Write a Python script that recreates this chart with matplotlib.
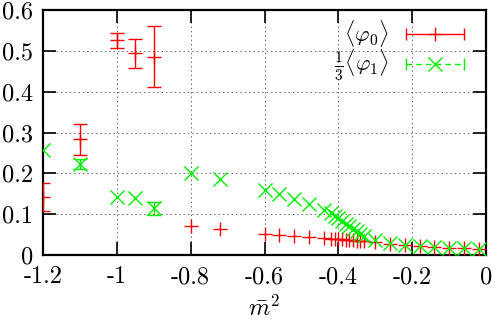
import numpy as np
import matplotlib
matplotlib.use("Agg")
import matplotlib.pyplot as plt
from matplotlib.lines import Line2D
from matplotlib.legend_handler import HandlerLine2D, HandlerTuple
from matplotlib.ticker import FuncFormatter, FixedLocator

plt.rcParams['font.family'] = 'cmr10'
plt.rcParams['mathtext.fontset'] = 'cm'
plt.rcParams['axes.unicode_minus'] = False
plt.rcParams['axes.formatter.use_mathtext'] = False

# ---- data ----
x_phi0 = [-1.2, -1.1, -1.0, -0.95, -0.9, -0.8, -0.72, -0.6, -0.56, -0.52, -0.48, -0.44,
          -0.42, -0.41, -0.40, -0.39, -0.38, -0.37, -0.36, -0.35, -0.34, -0.33,
          -0.3, -0.26, -0.22, -0.18, -0.14, -0.1, -0.06, -0.02]
y_phi0 = [0.142, 0.284, 0.526, 0.494, 0.486, 0.072, 0.063, 0.051, 0.048, 0.046, 0.043, 0.042,
          0.040, 0.039, 0.039, 0.038, 0.037, 0.037, 0.036, 0.035, 0.035, 0.034,
          0.032, 0.028, 0.025, 0.022, 0.020, 0.018, 0.016, 0.015]
e_phi0 = [0.035, 0.038, 0.018, 0.036, 0.074, 0.0, 0.0, 0.0, 0.0, 0.0, 0.0, 0.0,
          0.0, 0.0, 0.0, 0.0, 0.0, 0.0, 0.0, 0.0, 0.0, 0.0,
          0.0, 0.0, 0.0, 0.0, 0.0, 0.0, 0.0, 0.0]

x_phi1 = x_phi0
y_phi1 = [0.256, 0.222, 0.142, 0.140, 0.114, 0.200, 0.185, 0.158, 0.149, 0.136, 0.124, 0.111,
          0.102, 0.096, 0.090, 0.083, 0.077, 0.070, 0.064, 0.058, 0.052, 0.046,
          0.036, 0.029, 0.025, 0.022, 0.020, 0.018, 0.016, 0.015]
e_phi1 = [0.0, 0.012, 0.0, 0.0, 0.016, 0.0, 0.0, 0.0, 0.0, 0.0, 0.0, 0.0,
          0.0, 0.0, 0.0, 0.0, 0.0, 0.0, 0.0, 0.0, 0.0, 0.0,
          0.0, 0.0, 0.0, 0.0, 0.0, 0.0, 0.0, 0.0]

label_phi0 = r'$\langle\varphi_0\rangle$'
label_phi1 = r'$\frac{1}{3}\langle\varphi_1\rangle$'
xticks = [-1.2, -1.0, -0.8, -0.6, -0.4, -0.2, 0.0]
yticks = [0, 0.1, 0.2, 0.3, 0.4, 0.5, 0.6]

RED = '#ff0000'
GREEN = '#00f000'
FS = 17.5
LFS = 16

fig = plt.figure(figsize=(4.98, 3.23), dpi=100)
ax = fig.add_axes([43/498, 1-255/323, (486-43)/498, (255-10)/323])


def draw(xs, ys, es, color, marker, ms, z):
    xs = np.asarray(xs); ys = np.asarray(ys); es = np.asarray(es)
    ax.plot(xs, ys, ls='none', marker=marker, color=color, ms=ms, mew=1.0, zorder=z)
    m = es > 0
    ax.errorbar(xs[m], ys[m], yerr=es[m], fmt='none', ecolor=color,
                elinewidth=1.0, capsize=5, capthick=1.0, zorder=z)


draw(x_phi0, y_phi0, e_phi0, RED, '+', 9.5, 3)
draw(x_phi1, y_phi1, e_phi1, GREEN, 'x', 10.5, 4)

ax.set_xlim(-1.2, 0)
ax.set_ylim(0, 0.6)
ax.xaxis.set_major_locator(FixedLocator(xticks))
ax.yaxis.set_major_locator(FixedLocator(yticks))
fmt = FuncFormatter(lambda v, p: '%g' % v)
ax.xaxis.set_major_formatter(fmt)
ax.yaxis.set_major_formatter(fmt)
ax.tick_params(direction='in', length=9.7, width=1.2, top=True, right=True,
               labelsize=FS, pad=8)
ax.tick_params(axis='y', pad=7)
for s in ax.spines.values():
    s.set_linewidth(1.6)
ax.grid(True, linestyle=(0, (1.5, 3)), color='#666666', linewidth=0.7)
ax.set_axisbelow(True)

ax.set_xlabel(r'$\bar{m}^2$', fontsize=FS, labelpad=5)

# legend (gnuplot style: line with end caps and a central marker)
cap0 = Line2D([], [], color=RED, lw=1.0, marker='|', ms=9, mew=1.0)
mk0 = Line2D([], [], color=RED, ls='none', marker='+', ms=9.5, mew=1.0)
cap1 = Line2D([], [], color=GREEN, lw=1.0, ls=(0, (4, 3)), marker='|', ms=9, mew=1.0)
mk1 = Line2D([], [], color=GREEN, ls='none', marker='x', ms=10.5, mew=1.0)
hmap = {cap0: HandlerLine2D(numpoints=2, marker_pad=0),
        cap1: HandlerLine2D(numpoints=2, marker_pad=0),
        mk0: HandlerLine2D(numpoints=1),
        mk1: HandlerLine2D(numpoints=1),
        tuple: HandlerTuple(ndivide=1)}
leg = ax.legend([(cap0, mk0), (cap1, mk1)], [label_phi0, label_phi1],
                handler_map=hmap, loc='upper right',
                bbox_to_anchor=((464-43)/(486-43), 1-(18-10)/245),
                borderaxespad=0, borderpad=0, frameon=False, markerfirst=False,
                handlelength=42/LFS, handletextpad=0.75, labelspacing=-0.05, fontsize=LFS)

fig.savefig('out.png', dpi=100)
